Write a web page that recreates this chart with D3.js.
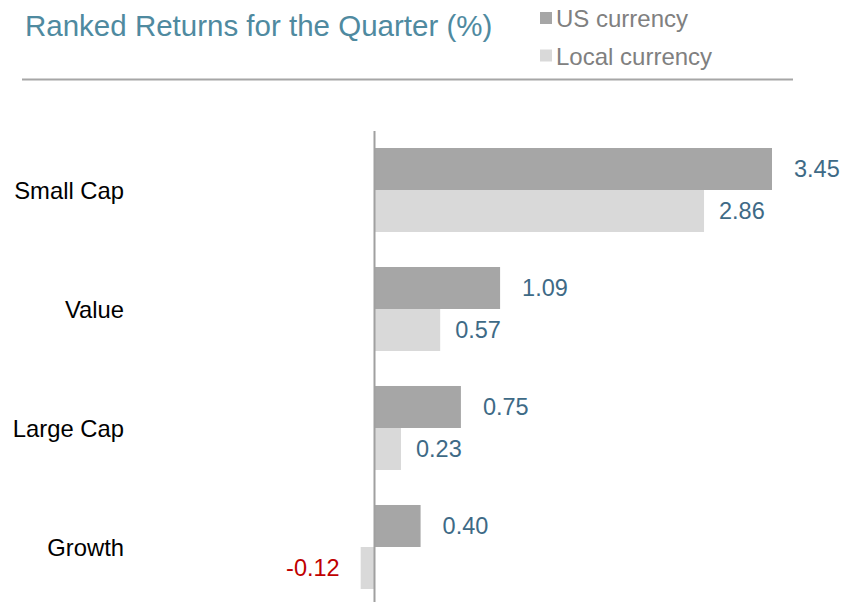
<!DOCTYPE html>
<html lang="en">
<head>
  <meta charset="UTF-8">
  <title>Ranked Returns for the Quarter</title>
  <script src="https://d3js.org/d3.v7.min.js"></script>
  <style>
    body { margin: 0; background: white; }
    text { font-family: Arial, "Liberation Sans", sans-serif; }
    .title { font-size: 29.5px; fill: #4f8aa0; }
    .legendText { font-size: 24px; fill: #808080; }
    .catLabel { font-size: 23.8px; fill: #000; }
    .valLabel { font-size: 23.5px; fill: #3e6a86; }
    .valLabel.neg { fill: #c00000; }
  </style>
</head>
<body>
<div id="chart"></div>
<script>
  // data
  const categories = ["Small Cap", "Value", "Large Cap", "Growth"];
  const seriesNames = ["US currency", "Local currency"];
  const usValues = [3.45, 1.09, 0.75, 0.40];
  const localValues = [2.86, 0.57, 0.23, -0.12];
  const seriesColors = ["#a6a6a6", "#d9d9d9"];

  const width = 856, height = 602;

  const svg = d3.select("#chart").append("svg")
    .attr("width", width)
    .attr("height", height);

  // scales
  const x = d3.scaleLinear().domain([0, 3.45]).range([374.5, 772]);
  const y = d3.scaleBand().domain(categories).range([148, 589]).paddingInner(0.294).paddingOuter(0);
  const ySub = d3.scaleBand().domain(seriesNames).range([0, y.bandwidth()]);

  // title + rule
  svg.append("text")
    .attr("class", "title")
    .attr("x", 25).attr("y", 36)
    .text("Ranked Returns for the Quarter (%)");

  svg.append("line")
    .attr("x1", 22).attr("x2", 793)
    .attr("y1", 79.5).attr("y2", 79.5)
    .attr("stroke", "#a6a6a6").attr("stroke-width", 2);

  // legend
  const legend = svg.append("g").selectAll("g")
    .data(seriesNames)
    .enter().append("g")
    .attr("transform", (d, i) => `translate(540, ${11 + i * 37.5})`);
  legend.append("rect")
    .attr("width", 12).attr("height", 12)
    .attr("y", 1)
    .attr("fill", (d, i) => seriesColors[i]);
  legend.append("text")
    .attr("class", "legendText")
    .attr("x", 16).attr("y", 16)
    .text(d => d);

  // bars
  const rows = categories.map((c, i) => [
    { cat: c, series: seriesNames[0], value: usValues[i], color: seriesColors[0] },
    { cat: c, series: seriesNames[1], value: localValues[i], color: seriesColors[1] }
  ]).flat();

  svg.append("g").selectAll("rect")
    .data(rows)
    .enter().append("rect")
    .attr("x", d => Math.min(x(0), x(d.value)))
    .attr("y", d => y(d.cat) + ySub(d.series))
    .attr("width", d => Math.abs(x(d.value) - x(0)))
    .attr("height", ySub.bandwidth())
    .attr("fill", d => d.color);

  // value labels (US labels sit a bit further out than local ones)
  svg.append("g").selectAll("text")
    .data(rows)
    .enter().append("text")
    .attr("class", d => d.value < 0 ? "valLabel neg" : "valLabel")
    .attr("x", d => d.value < 0 ? x(d.value) - 21 : x(d.value) + (d.series === seriesNames[0] ? 22 : 15))
    .attr("y", d => y(d.cat) + ySub(d.series) + ySub.bandwidth() / 2)
    .attr("dy", "0.36em")
    .attr("text-anchor", d => d.value < 0 ? "end" : "start")
    .text(d => d.value.toFixed(2));

  // category labels
  svg.append("g").selectAll("text")
    .data(categories)
    .enter().append("text")
    .attr("class", "catLabel")
    .attr("x", 124)
    .attr("y", d => y(d) + y.bandwidth() / 2)
    .attr("dy", "0.36em")
    .attr("text-anchor", "end")
    .text(d => d);

  // zero axis
  svg.append("line")
    .attr("x1", x(0)).attr("x2", x(0))
    .attr("y1", 131).attr("y2", height)
    .attr("stroke", "#a0a0a0").attr("stroke-width", 2);
</script>
</body>
</html>
